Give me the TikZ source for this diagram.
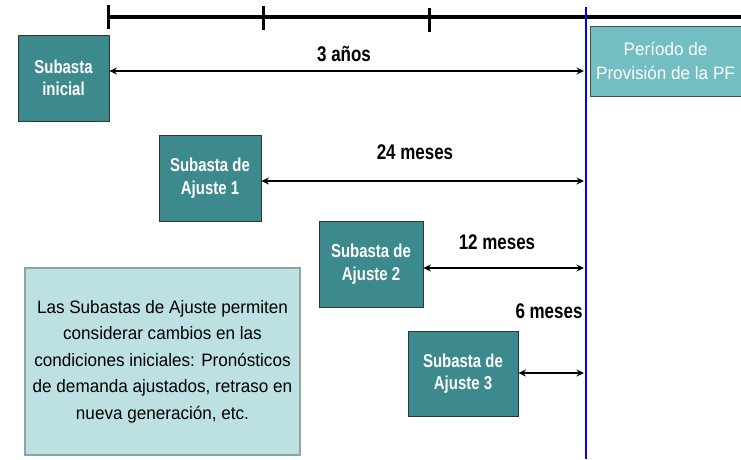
\documentclass[tikz,border=0pt]{standalone}
\usepackage{fontspec}
\setmainfont[FakeStretch=0.8]{Liberation Sans}
\newfontfamily\widerf[FakeStretch=0.95]{Liberation Sans}
\usetikzlibrary{arrows.meta}
\definecolor{tealdark}{HTML}{3D8A8E}
\definecolor{teallight}{HTML}{72BEC3}
\definecolor{notefill}{HTML}{BDE1E3}
\definecolor{noteline}{HTML}{8FA3A4}
\tikzset{
  auction/.style={draw=black!80, line width=0.8pt, fill=tealdark, text=white,
    font=\fontsize{18.7}{22.5}\selectfont\bfseries, align=center, inner sep=0pt},
  span/.style={line width=2.4pt, {Stealth[length=7.5pt,width=7pt]}-{Stealth[length=7.5pt,width=7pt]}},
  spanlabel/.style={font=\fontsize{21.2}{25}\selectfont\bfseries, inner sep=0pt},
  tick/.style={line width=3pt},
}
\begin{document}
\begin{tikzpicture}[x=1pt,y=-1pt]
\useasboundingbox (0,0) rectangle (741,459);
% timeline
\coordinate (t0) at (108,17);
\coordinate (tend) at (741,17);
\draw[line width=4pt] (t0) -- (tend);
\draw[tick] (108,5) -- (108,29);
\draw[tick] (263,6) -- (263,30);
\draw[tick] (429,8) -- (429,32);
% period box
\node[draw=black!70, line width=0.8pt, fill=teallight, text=white, font=\widerf\fontsize{18}{24}\selectfont,
  align=center, minimum width=151pt, minimum height=70pt, inner sep=0pt] (pf) at (665.5,61) {Período de\\Provisión de la PF};
% blue line
\coordinate (b0) at (586,7);
\coordinate (b1) at (586,459);
\draw[blue, line width=2.6pt] (b0) -- (b1);
% auctions
\node[auction, minimum width=91pt, minimum height=86pt] (ini) at (63.5,78) {Subasta\\inicial};
\node[auction, minimum width=102pt, minimum height=86pt] (a1) at (210,178) {Subasta de\\Ajuste 1};
\node[auction, minimum width=104pt, minimum height=86pt] (a2) at (371,264) {Subasta de\\Ajuste 2};
\node[auction, minimum width=110pt, minimum height=85pt] (a3) at (463,373.5) {Subasta de\\Ajuste 3};
% arrow ends
\coordinate (e0) at (584,71);
\coordinate (e1) at (584,181);
\coordinate (e2) at (584,268);
\coordinate (e3) at (584,373);
\draw[span] (ini.east |- e0) -- (e0);
\draw[span] (a1.east |- e1) -- (e1);
\draw[span] (a2.east |- e2) -- (e2);
\draw[span] (a3.east |- e3) -- (e3);
% labels
\node[spanlabel] (l0) at (344,54) {3 años};
\node[spanlabel] (l1) at (415,152) {24 meses};
\node[spanlabel] (l2) at (497,242) {12 meses};
\node[spanlabel] (l3) at (549,311) {6 meses};
% note
\node[draw=noteline, line width=1.6pt, fill=notefill, minimum width=275pt, minimum height=187pt,
  inner sep=0pt, align=center, font=\widerf\fontsize{18}{26.5}\selectfont] (note) at (162.5,361.5)
  {Las Subastas de Ajuste permiten\\considerar cambios en las\\condiciones iniciales: Pronósticos\\de demanda ajustados, retraso en\\nueva generación, etc.};
\end{tikzpicture}
\end{document}
